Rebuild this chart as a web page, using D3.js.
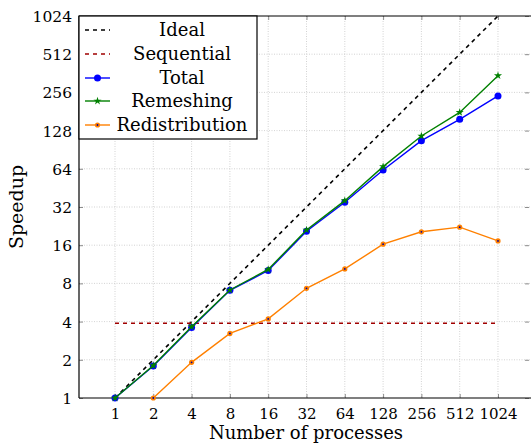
<!DOCTYPE html>
<html>
<head>
<meta charset="utf-8">
<script src="https://cdn.jsdelivr.net/npm/d3@7"></script>
<style>
  body { margin: 0; background: #fff; }
  svg { font-family: "DejaVu Serif", serif; }
</style>
</head>
<body>
<svg width="531" height="444"></svg>
<script>
// processes
var procs = [1, 2, 4, 8, 16, 32, 64, 128, 256, 512, 1024];
var yTicks = [1, 2, 4, 8, 16, 32, 64, 128, 256, 512, 1024];
var total = [1, 1.79, 3.6, 7.06, 10.1, 20.6, 34.9, 62.6, 106.6, 157, 240];
var remeshing = [1, 1.8, 3.65, 7.1, 10.3, 21.1, 35.9, 66.6, 116, 178, 347];
var redistProcs = [2, 4, 8, 16, 32, 64, 128, 256, 512, 1024];
var redistribution = [1, 1.91, 3.23, 4.2, 7.32, 10.4, 16.3, 20.4, 22.2, 17.3];
var sequential = 3.88;
var legendNames = ["Ideal", "Sequential", "Total", "Remeshing", "Redistribution"];

var svg = d3.select("svg");
var pLeft = 79, pRight = 534, pTop = 16, pBottom = 398;

var x = d3.scaleLog().base(2).domain([Math.pow(2, -0.94), Math.pow(2, 10.94)]).range([pLeft, pRight]);
var y = d3.scaleLog().base(2).domain([1, 1024]).range([pBottom, pTop]);

// grid
var grid = svg.append("g").attr("stroke", "#c8c8c8").attr("stroke-width", 0.8).attr("stroke-dasharray", "1,1.5");
grid.selectAll(".gx").data(procs).enter().append("line")
    .attr("x1", function (d) { return x(d); }).attr("x2", function (d) { return x(d); })
    .attr("y1", pTop).attr("y2", pBottom);
grid.selectAll(".gy").data(yTicks.slice(1, -1)).enter().append("line")
    .attr("y1", function (d) { return y(d); }).attr("y2", function (d) { return y(d); })
    .attr("x1", pLeft).attr("x2", pRight);

// axes (ticks inside, both sides)
var xAxis = d3.axisBottom(x).tickValues(procs).tickFormat(d3.format("d")).tickSizeInner(-4).tickSizeOuter(0).tickPadding(10);
var yAxis = d3.axisLeft(y).tickValues(yTicks).tickFormat(d3.format("d")).tickSizeInner(-4).tickSizeOuter(0).tickPadding(7);

var gx = svg.append("g").attr("transform", "translate(0," + pBottom + ")").call(xAxis);
var gy = svg.append("g").attr("transform", "translate(" + pLeft + ",0)").call(yAxis);
svg.append("g").attr("transform", "translate(0," + pTop + ")")
    .call(d3.axisTop(x).tickValues(procs).tickFormat("").tickSizeInner(-4).tickSizeOuter(0));
svg.append("g").attr("transform", "translate(529,0)")
    .call(d3.axisRight(y).tickValues(yTicks).tickFormat("").tickSizeInner(-4).tickSizeOuter(0));

svg.selectAll(".domain").remove();
svg.selectAll(".tick line").attr("stroke", "#444").attr("stroke-width", 0.6);
gx.selectAll("text").attr("font-size", 15).attr("fill", "#000");
gy.selectAll("text").attr("font-size", 15.5).attr("fill", "#000").attr("dy", "0.35em");
[gx, gy].forEach(function (g) { g.attr("font-family", "DejaVu Serif, serif"); });

// frame lines
svg.append("line").attr("x1", pLeft).attr("x2", pLeft).attr("y1", pTop).attr("y2", pBottom).attr("stroke", "#000").attr("stroke-width", 1.2);
svg.append("line").attr("x1", pLeft).attr("x2", 531).attr("y1", pBottom).attr("y2", pBottom).attr("stroke", "#000").attr("stroke-width", 1.2);
svg.append("line").attr("x1", pLeft).attr("x2", 531).attr("y1", pTop).attr("y2", pTop).attr("stroke", "#000").attr("stroke-width", 1.2);

// lines
var line = d3.line().x(function (d) { return x(d[0]); }).y(function (d) { return y(d[1]); });

svg.append("path").datum([[1, 1], [1024, 1024]]).attr("d", line)
    .attr("fill", "none").attr("stroke", "#000").attr("stroke-width", 1.6).attr("stroke-dasharray", "4,4");
svg.append("path").datum([[1, sequential], [1024, sequential]]).attr("d", line)
    .attr("fill", "none").attr("stroke", "#a00000").attr("stroke-width", 1.6).attr("stroke-dasharray", "4,4");

function series(px, vals, color) {
    var pts = px.map(function (p, i) { return [p, vals[i]]; });
    svg.append("path").datum(pts).attr("d", line)
        .attr("fill", "none").attr("stroke", color).attr("stroke-width", 1.4);
    return pts;
}

var star = d3.symbol().type(d3.symbolStar).size(20);

var ptsR = series(redistProcs, redistribution, "#ff8000");
svg.selectAll(".mr").data(ptsR).enter().append("g")
    .attr("transform", function (d) { return "translate(" + x(d[0]) + "," + y(d[1]) + ")"; })
    .each(function () {
        d3.select(this).append("circle").attr("r", 2.6).attr("fill", "#ff8000");
        d3.select(this).append("circle").attr("r", 0.9).attr("fill", "#0000a0");
    });

var ptsT = series(procs, total, "#0000ff");
svg.selectAll(".mt").data(ptsT).enter().append("circle")
    .attr("cx", function (d) { return x(d[0]); }).attr("cy", function (d) { return y(d[1]); })
    .attr("r", 3.5).attr("fill", "#0000ff");

var ptsM = series(procs, remeshing, "#008000");
svg.selectAll(".mm").data(ptsM).enter().append("path")
    .attr("transform", function (d) { return "translate(" + x(d[0]) + "," + y(d[1]) + ")"; })
    .attr("d", star).attr("fill", "#008000");

// axis labels
svg.append("text").attr("x", 306).attr("y", 439).attr("text-anchor", "middle")
    .attr("font-size", 18).text("Number of processes");
svg.append("text").attr("transform", "translate(23,207) rotate(-90)").attr("text-anchor", "middle")
    .attr("font-size", 19).text("Speedup");

// legend
var lg = svg.append("g");
lg.append("rect").attr("x", pLeft).attr("y", pTop).attr("width", 178).attr("height", 123)
    .attr("fill", "#fff").attr("stroke", "#000").attr("stroke-width", 1.2);
var ly = [30, 54, 78, 101, 125];
var lcol = ["#000", "#a00000", "#0000ff", "#008000", "#ff8000"];
legendNames.forEach(function (name, i) {
    var yy = ly[i];
    var ln = lg.append("line").attr("x1", 85).attr("x2", 110).attr("y1", yy).attr("y2", yy)
        .attr("stroke", lcol[i]).attr("stroke-width", 1.4);
    if (i < 2) ln.attr("stroke-dasharray", "4,4");
    if (i == 2) lg.append("circle").attr("cx", 97.5).attr("cy", yy).attr("r", 3.5).attr("fill", lcol[i]);
    if (i == 3) lg.append("path").attr("transform", "translate(97.5," + yy + ")").attr("d", star).attr("fill", lcol[i]);
    if (i == 4) {
        lg.append("circle").attr("cx", 97.5).attr("cy", yy).attr("r", 2.6).attr("fill", lcol[i]);
        lg.append("circle").attr("cx", 97.5).attr("cy", yy).attr("r", 0.9).attr("fill", "#0000a0");
    }
    lg.append("text").attr("x", 182).attr("y", yy).attr("dy", "0.35em").attr("text-anchor", "middle")
        .attr("font-size", 18).text(name);
});
</script>
</body>
</html>
